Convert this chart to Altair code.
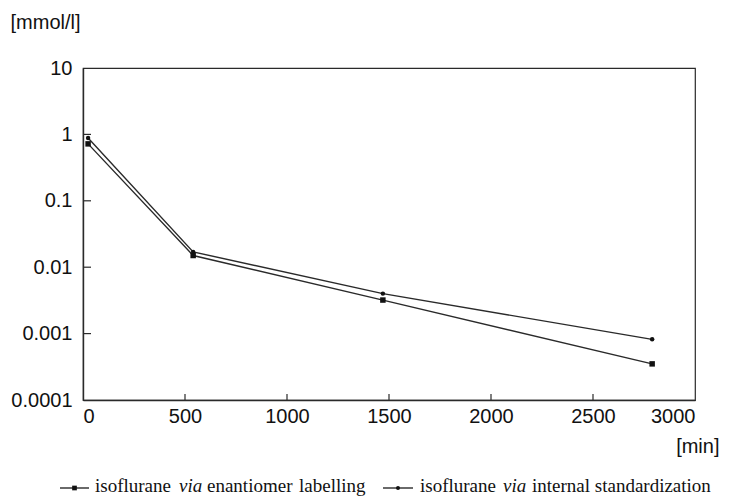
import altair as alt
import pandas as pd

# ---- data ----
time_min = [25, 540, 1470, 2790]
enantiomer = [0.72, 0.015, 0.0032, 0.00035]
internal = [0.88, 0.017, 0.0040, 0.00082]
series_names = ["enantiomer", "internal"]
x_ticks = [0, 500, 1000, 1500, 2000, 2500, 3000]
y_ticks = [0.0001, 0.001, 0.01, 0.1, 1, 10]

df = pd.DataFrame({
    "t": time_min + time_min,
    "c": enantiomer + internal,
    "s": [series_names[0]] * len(time_min) + [series_names[1]] * len(time_min),
})

INK = "#2a2a2a"
SANS = "Liberation Sans"
SERIF = "Liberation Serif"
FS = 20

xs = alt.Scale(domain=[0, 3000], nice=False, zero=False)
ys = alt.Scale(type="log", domain=[0.0001, 10], nice=False)

X = alt.X("t:Q", scale=xs, axis=alt.Axis(
    values=x_ticks, format="d", title="[min]", titleX=636, titleY=46,
    titleAlign="right", titleBaseline="middle", titleFontSize=FS,
    titleFont=SANS, titleFontWeight="normal", titleColor="#111",
    labelPadding=6))
Y = alt.Y("c:Q", scale=ys, axis=alt.Axis(
    values=y_ticks, format="~g", title="[mmol/l]", titleAngle=0,
    titleX=-73, titleY=-46, titleAlign="left", titleBaseline="middle",
    titleFontSize=FS, titleFont=SANS, titleFontWeight="normal",
    titleColor="#111", labelPadding=11))

base = alt.Chart(df)
lines = base.mark_line(color=INK, strokeWidth=1.4).encode(x=X, y=Y, detail="s:N")
points = base.mark_point(filled=True, color="#111", opacity=1).encode(
    x=X, y=Y,
    shape=alt.Shape("s:N", scale=alt.Scale(domain=series_names, range=["square", "circle"]), legend=None),
    size=alt.Size("s:N", scale=alt.Scale(domain=series_names, range=[30, 20]), legend=None),
)

ytick_df = pd.DataFrame({"c": y_ticks[1:-1]})
yticks = alt.Chart(ytick_df).mark_rule(color=INK, strokeWidth=1.2).encode(
    y=Y, x=alt.value(0), x2=alt.value(8))
xtick_df = pd.DataFrame({"t": x_ticks[1:-1]})
xticks = alt.Chart(xtick_df).mark_rule(color=INK, strokeWidth=1.2).encode(
    x=X, y=alt.value(332), y2=alt.value(326))

one = pd.DataFrame({"k": [0]})
LEG_BASE = 424
LEG_SYM = 420

def txt(s, x, italic=False):
    return alt.Chart(one).mark_text(
        text=s, font=SERIF, fontSize=19, fontStyle="italic" if italic else "normal",
        align="left", baseline="alphabetic", color="#111"
    ).encode(x=alt.value(x), y=alt.value(LEG_BASE))

def sym(x1, x2, shape, size):
    r = alt.Chart(one).mark_rule(color=INK, strokeWidth=1.4).encode(
        x=alt.value(x1), x2=alt.value(x2), y=alt.value(LEG_SYM))
    p = alt.Chart(one).mark_point(filled=True, color="#111", opacity=1, shape=shape, size=size).encode(
        x=alt.value((x1 + x2) / 2), y=alt.value(LEG_SYM))
    return [r, p]

legend = (
    sym(-23, 6, "square", 22)
    + [txt("isoflurane", 12), txt("via", 96, True), txt("enantiomer", 124), txt("labelling", 216)]
    + sym(300, 330, "circle", 16)
    + [txt("isoflurane", 337), txt("via", 420, True), txt("internal standardization", 449)]
)

chart = alt.layer(lines, points, yticks, xticks, *legend).properties(
    width=612, height=332,
    autosize=alt.AutoSizeParams(type="none"),
    padding={"left": 75, "top": 60, "right": 26, "bottom": 97},
).configure_view(
    stroke=INK, strokeWidth=1.2
).configure_axis(
    grid=False, ticks=False, domainColor=INK, domainWidth=1.4,
    labelFont=SANS, labelFontSize=FS, labelColor="#111",
)

chart.save("out.html", embed_options={"renderer": "svg", "actions": False})
